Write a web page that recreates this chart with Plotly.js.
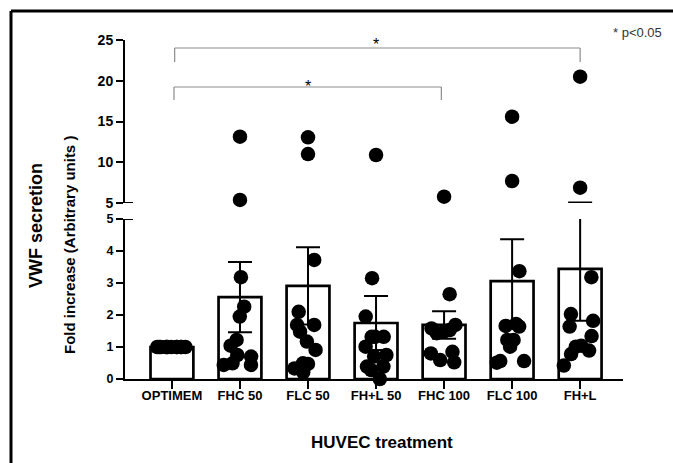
<!DOCTYPE html>
<html><head><meta charset="utf-8">
<script src="https://cdn.plot.ly/plotly-3.0.1.min.js"></script>
<style>html,body{margin:0;padding:0;background:#fff}#chart{width:673px;height:463px}</style>
</head><body><div id="chart"></div>
<script>
// ---- data ----
const categories = ['OPTIMEM', 'FHC 50', 'FLC 50', 'FH+L 50', 'FHC 100', 'FLC 100', 'FH+L'];
const meanValues = [1.00, 2.56, 2.91, 1.75, 1.69, 3.06, 3.44];
const semValues  = [0.00, 1.10, 1.21, 0.84, 0.43, 1.31, 1.62];
const optimemPoints = [1, 1, 1, 1, 1, 1, 1, 1, 1, 1, 1, 1];
const fhc50Points   = [13.13, 5.37, 3.18, 2.26, 1.95, 1.22, 1.04, 0.75, 0.70, 0.44, 0.49, 0.44];
const flc50Points   = [13.06, 11.0, 3.72, 2.10, 1.69, 1.69, 1.48, 1.17, 0.91, 0.49, 0.33, 0.47, 0.21];
const fhl50Points   = [10.89, 3.15, 1.95, 1.32, 1.32, 1.32, 1.01, 0.70, 0.75, 0.39, 0.28, 0.39, 0.0];
const fhc100Points  = [5.77, 2.65, 1.58, 1.53, 1.48, 1.69, 1.43, 0.85, 0.80, 0.52, 0.59];
const flc100Points  = [15.59, 7.70, 3.37, 1.64, 1.66, 1.72, 1.01, 1.22, 1.22, 0.51, 0.56, 0.56];
const fhlPoints     = [20.5, 6.88, 3.18, 2.03, 1.82, 1.64, 1.34, 1.04, 0.89, 1.01, 0.78, 0.42];
const yTicksLow  = [0, 1, 2, 3, 4, 5];
const yTicksHigh = [5, 10, 15, 20, 25];
const xTitle = 'HUVEC treatment';
const yTitle = 'Fold increase (Arbitrary units )';
const yTitleOuter = 'VWF secretion';
const noteText = '* p<0.05';

// ---- layout geometry ----
const W = 673, H = 463;
const M = {l: 125, r: 50, t: 32, b: 71};
const PW = W - M.l - M.r, PH = H - M.t - M.b;
const px2fx = p => (p - M.l) / PW;
const py2fy = p => (H - M.b - p) / PH;
const lowBot = 379, lowTop = 219;   // pixel rows of 0 and 5 (lower segment)
const highBot = 203, highTop = 40;  // pixel rows of 5 and 25 (upper segment)
const BREAK = 5;
const lowRange = [0, BREAK], highRange = [BREAK, 25];
const lowScale = (lowBot - lowTop) / (lowRange[1] - lowRange[0]);
const highScale = (highBot - highTop) / (highRange[1] - highRange[0]);
const fullTop = M.t, fullBot = H - M.b;
const lowFull = [lowRange[0] - (fullBot - lowBot) / lowScale, lowRange[0] + (lowBot - fullTop) / lowScale];
const highFull = [highRange[0] - (fullBot - highBot) / highScale, highRange[1] + (highTop - fullTop) / highScale];

const groups = [optimemPoints, fhc50Points, flc50Points, fhl50Points, fhc100Points, flc100Points, fhlPoints];
const lowX = [], lowY = [], highX = [], highY = [];
groups.forEach((g, i) => g.forEach(v => {
  if (v > BREAK) { highX.push(categories[i]); highY.push(v); }
  else { lowX.push(categories[i]); lowY.push(v); }
}));

const font = 'Liberation Sans, Arial, sans-serif';
const barCommon = {
  type: 'bar', x: categories, y: meanValues, width: 0.63,
  error_y: {type: 'data', array: semValues, visible: true, color: '#000', thickness: 2, width: 12},
  hoverinfo: 'skip', showlegend: false
};
const traces = [
  Object.assign({}, barCommon, {xaxis: 'x', yaxis: 'y',
    marker: {color: 'rgba(0,0,0,0)', line: {color: '#000', width: 2.7}}}),
  Object.assign({}, barCommon, {xaxis: 'x', yaxis: 'y2',
    marker: {color: 'rgba(0,0,0,0)', line: {color: 'rgba(0,0,0,0)', width: 0}}}),
  {type: 'box', x: lowX, y: lowY, xaxis: 'x', yaxis: 'y3', boxpoints: 'all', jitter: 0.85, pointpos: 0,
   width: 0.6, fillcolor: 'rgba(0,0,0,0)', line: {width: 0, color: 'rgba(0,0,0,0)'}, whiskerwidth: 0,
   marker: {size: 14.5, color: '#000'}, hoverinfo: 'skip', showlegend: false},
  {type: 'box', x: highX, y: highY, xaxis: 'x', yaxis: 'y4', boxpoints: 'all', jitter: 0, pointpos: 0,
   width: 0.6, fillcolor: 'rgba(0,0,0,0)', line: {width: 0, color: 'rgba(0,0,0,0)'}, whiskerwidth: 0,
   marker: {size: 14.5, color: '#000'}, hoverinfo: 'skip', showlegend: false}
];

const axisCommon = {showgrid: false, zeroline: false, showline: true, linecolor: '#000', linewidth: 2,
  ticks: 'outside', ticklen: 7, tickwidth: 2, tickcolor: '#000', fixedrange: true};
const grey = '#8c8c8c';
const bracket = (xa, xb, yTop, yLeg) => [
  {type: 'line', xref: 'x', yref: 'y2', x0: xa, x1: xb, y0: yTop, y1: yTop, line: {color: grey, width: 1.2}},
  {type: 'line', xref: 'x', yref: 'y2', x0: xa, x1: xa, y0: yTop, y1: yLeg, line: {color: grey, width: 1.2}},
  {type: 'line', xref: 'x', yref: 'y2', x0: xb, x1: xb, y0: yTop, y1: yLeg, line: {color: grey, width: 1.2}}
];
const hv = p => highRange[0] + (highBot - p) / highScale;

const layout = {
  width: W, height: H, margin: M, paper_bgcolor: '#fff', plot_bgcolor: 'rgba(0,0,0,0)',
  showlegend: false, barmode: 'overlay', boxmode: 'overlay',
  font: {family: font, color: '#000'},
  xaxis: Object.assign({}, axisCommon, {type: 'category', categoryorder: 'array', categoryarray: categories,
    range: [-0.69, 6.63], anchor: 'y', domain: [0, 1], ticklen: 8, ticklabelstandoff: -5,
    tickfont: {family: font, size: 13, weight: 'bold', color: '#000'}}),
  yaxis: Object.assign({}, axisCommon, {domain: [py2fy(lowBot), py2fy(lowTop)], range: lowRange, anchor: 'x',
    tickvals: yTicksLow, ticktext: yTicksLow.map(String),
    tickfont: {family: font, size: 12.5, weight: 'bold', color: '#000'}}),
  yaxis2: Object.assign({}, axisCommon, {domain: [py2fy(highBot), py2fy(highTop)], range: highRange, anchor: 'x',
    tickvals: yTicksHigh, ticktext: yTicksHigh.map(String),
    tickfont: {family: font, size: 14, weight: 'bold', color: '#000'}}),
  yaxis3: {domain: [0, 1], range: lowFull, anchor: 'x', visible: false, fixedrange: true},
  yaxis4: {overlaying: 'y3', range: highFull, anchor: 'x', visible: false, fixedrange: true},
  shapes: [
    {type: 'line', xref: 'paper', yref: 'y', x0: -8 / PW, x1: 8 / PW, y0: BREAK, y1: BREAK, line: {color: '#000', width: 2}},
    {type: 'line', xref: 'paper', yref: 'y2', x0: -8 / PW, x1: 8 / PW, y0: BREAK, y1: BREAK, line: {color: '#000', width: 2}},
    ...bracket(0.04, 6, hv(48), hv(62)),
    ...bracket(0.03, 3.96, hv(87), hv(100)),
    {type: 'line', xref: 'paper', yref: 'paper', x0: px2fx(11), x1: px2fx(W + 5), y0: py2fy(11), y1: py2fy(11), line: {color: '#000', width: 3}},
    {type: 'line', xref: 'paper', yref: 'paper', x0: px2fx(11), x1: px2fx(11), y0: py2fy(11), y1: py2fy(H + 5), line: {color: '#000', width: 3}}
  ],
  annotations: [
    {text: '*', xref: 'x', yref: 'y2', x: 3, y: hv(44), xanchor: 'center', yanchor: 'middle', showarrow: false,
     font: {family: font, size: 16, color: '#000'}},
    {text: '*', xref: 'x', yref: 'y2', x: 2, y: hv(86), xanchor: 'center', yanchor: 'middle', showarrow: false,
     font: {family: font, size: 16, color: '#000'}},
    {text: noteText, xref: 'paper', yref: 'paper', x: px2fx(611), y: py2fy(32), xanchor: 'left', yanchor: 'middle',
     showarrow: false, font: {family: font, size: 13, color: '#333'}},
    {text: yTitleOuter, xref: 'paper', yref: 'paper', x: px2fx(36), y: py2fy(226), xanchor: 'center', yanchor: 'middle',
     textangle: -90, showarrow: false, font: {family: font, size: 18, weight: 'bold', color: '#000'}},
    {text: yTitle, xref: 'paper', yref: 'paper', x: px2fx(69), y: py2fy(245), xanchor: 'center', yanchor: 'middle',
     textangle: -90, showarrow: false, font: {family: font, size: 15, weight: 'bold', color: '#000'}},
    {text: xTitle, xref: 'paper', yref: 'paper', x: px2fx(382), y: py2fy(442), xanchor: 'center', yanchor: 'middle',
     showarrow: false, font: {family: font, size: 17, weight: 'bold', color: '#000'}}
  ]
};

Plotly.newPlot('chart', traces, layout, {staticPlot: true, displayModeBar: false});
</script>
</body></html>
